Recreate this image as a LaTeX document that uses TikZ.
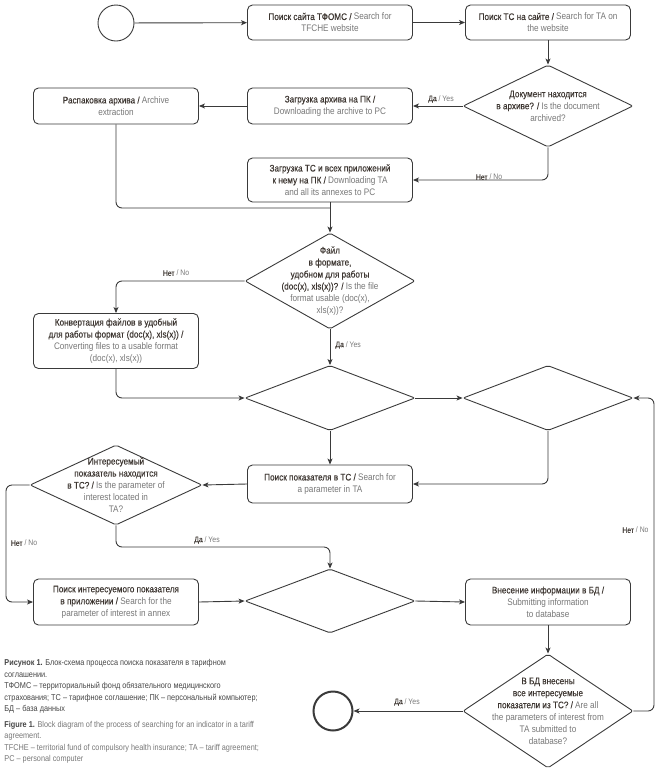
\documentclass[tikz,border=0pt]{standalone}
\usepackage{fontspec}
\setmainfont{Liberation Sans}[FakeStretch=0.86]
\newfontfamily\rusfont{Liberation Sans}[FakeStretch=0.86,FakeBold=0.3]
\usetikzlibrary{shapes.geometric,arrows.meta}

\definecolor{linecol}{HTML}{3A3A3A}
\definecolor{rucol}{HTML}{3D3631}
\definecolor{encol}{HTML}{777777}
\definecolor{capcol}{HTML}{454545}
\newcommand{\rus}[1]{{\rusfont\color{rucol}#1}}
\newcommand{\eng}[1]{{\color{encol}#1}}

\tikzset{
  process/.style={draw=linecol, rounded corners=5pt, minimum width=165pt, minimum height=35pt,
    align=center, inner sep=1pt, text=encol, font=\fontsize{9.5}{12}\selectfont},
  decision/.style={draw=linecol, diamond, rounded corners=2pt, minimum width=170pt, inner sep=0pt},
  dtext/.style={align=center, text=encol, font=\fontsize{9.5}{12}\selectfont},
  flow/.style={draw=linecol, rounded corners=6pt, -{Stealth[length=6pt,width=5pt,inset=1.5pt]}},
  answer/.style={text=encol, font=\fontsize{8}{10}\selectfont, inner sep=1pt},
  terminal/.style={draw=linecol, circle, inner sep=0pt},
  caption/.style={align=left, text=capcol, inner sep=0pt, font=\fontsize{8.5}{11.5}\selectfont}
}

\begin{document}
\begin{tikzpicture}[x=1pt, y=-1pt, line width=0.9pt]
\useasboundingbox (0,0) rectangle (662,777);

% top row
\node[terminal, minimum size=36pt] (start) at (116,23) {};
\node[process] (tfoms) at (330,22.5) {\rus{Поиск сайта ТФОМС /} Search for\\TFCHE website};
\node[process] (findta) at (548,22.5) {\rus{Поиск ТС на сайте /} Search for TA on\\the website};
\node[decision, minimum height=82pt, label={[dtext]center:{\rus{Документ находится}\\\rus{в архиве? /} Is the document\\archived?}}] (archq) at (548,106) {};
\node[process, minimum height=36pt] (getarch) at (330,106) {\rus{Загрузка архива на ПК /}\\Downloading the archive to PC};
\node[process, minimum height=36pt] (unpack) at (116,106) {\rus{Распаковка архива /} Archive\\extraction};
\node[process, minimum height=44pt] (getta) at (330,180) {\rus{Загрузка ТС и всех приложений}\\\rus{к нему на ПК /} Downloading TA\\and all its annexes to PC};
\coordinate (join) at (330,208);

% format check
\node[decision, minimum height=96pt, label={[dtext]center:{\rus{Файл}\\\rus{в формате,}\\\rus{удобном для работы}\\\rus{(doc(x), xls(x))? /} Is the file\\format usable (doc(x),\\xls(x))?}}] (formq) at (330,281) {};
\node[process, minimum height=55pt] (convert) at (116,341) {\rus{Конвертация файлов в удобный}\\\rus{для работы формат (doc(x), xls(x)) /}\\Converting files to a usable format\\(doc(x), xls(x))};
\node[decision, minimum height=65pt] (merge1) at (330,398) {};
\node[decision, minimum height=65pt] (merge2) at (548,398) {};

% search
\node[process, minimum height=38pt] (search) at (330,484) {\rus{Поиск показателя в ТС /} Search for\\a parameter in TA};
\node[decision, minimum width=172pt, minimum height=80pt, label={[dtext]center:{\rus{Интересуемый}\\\rus{показатель находится}\\\rus{в ТС? /} Is the parameter of\\interest located in\\TA?}}] (inta) at (116,485) {};
\coordinate (noleft) at (6,543);
\coordinate (yesdown) at (330,547);
\node[process, minimum height=46pt] (annex) at (116,602) {\rus{Поиск интересуемого показателя}\\\rus{в приложении /} Search for the\\parameter of interest in annex};
\node[decision, minimum height=64pt] (merge3) at (330,601) {};
\node[process, minimum height=46pt] (submit) at (548,602) {\rus{Внесение информации в БД /}\\Submitting information\\to database};
\node[decision, minimum height=114pt, label={[dtext]center:{\rus{В БД внесены}\\\rus{все интересуемые}\\\rus{показатели из ТС? /} Are all\\the parameters of interest from\\TA submitted to\\database?}}] (allq) at (548,711) {};
\node[terminal, minimum size=39pt, line width=2pt] (stop) at (333,711) {};
\coordinate (loop) at (654,550);

% connectors
\draw[flow] (start) -- (tfoms);
\draw[flow] (tfoms) -- (findta);
\draw[flow] (findta) -- (archq);
\draw[flow] (archq.west) -- (getarch);
\draw[flow] (getarch) -- (unpack);
\draw[flow] (archq.south) |- (getta.east);
\draw[flow, -] (unpack.south) |- (join);
\draw[flow] (getta) -- (formq.north);
\draw[flow] (formq.west) -| (convert.north);
\draw[flow] (formq.south) -- (merge1.north);
\draw[flow] (convert.south) |- (merge1.west);
\draw[flow] (merge1.east) -- (merge2.west);
\draw[flow] (merge1.south) -- (search.north);
\draw[flow] (merge2.south) |- (search.east);
\draw[flow] (search.west) -- (inta.east);
\draw[flow] (inta.west) -| (noleft) |- (annex.west);
\draw[flow] (inta.south) |- (yesdown) -- (merge3.north);
\draw[flow] (annex.east) -- (merge3.west);
\draw[flow] (merge3.east) -- (submit.west);
\draw[flow] (submit) -- (allq.north);
\draw[flow] (allq.west) -- (stop.east);
\draw[flow] (allq.east) -| (loop) |- (merge2.east);

% answers
\node[answer] (yes1) at (441,99) {\rus{Да} / Yes};
\node[answer] (no1) at (489,177) {\rus{Нет} / No};
\node[answer] (no2) at (176,273) {\rus{Нет} / No};
\node[answer, anchor=west] (yes2) at (334,345) {\rus{Да} / Yes};
\node[answer, anchor=east] (no3) at (650,530) {\rus{Нет} / No};
\node[answer] (no4) at (24,543) {\rus{Нет} / No};
\node[answer] (yes3) at (207,540) {\rus{Да} / Yes};
\node[answer] (yes4) at (407,702) {\rus{Да} / Yes};

% caption
\node[caption, anchor=north west] (cap) at (4,659) {\textbf{Рисунок 1.} Блок-схема процесса поиска показателя в тарифном\\
соглашении.\\
ТФОМС – территориальный фонд обязательного медицинского\\
страхования; ТС – тарифное соглашение; ПК – персональный компьютер;\\
БД – база данных\\[4pt]
\textbf{Figure 1.} \eng{Block diagram of the process of searching for an indicator in a tariff}\\
\eng{agreement.}\\
\eng{TFCHE – territorial fund of compulsory health insurance; TA – tariff agreement;}\\
\eng{PC – personal computer}};
\end{tikzpicture}
\end{document}
